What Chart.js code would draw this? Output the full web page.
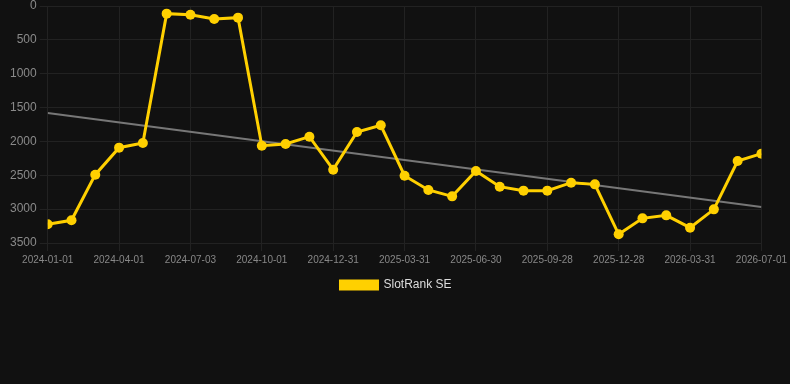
<!DOCTYPE html>
<html>
<head>
<meta charset="utf-8">
<script src="https://cdn.jsdelivr.net/npm/chart.js@4"></script>
<style>
  html, body { margin: 0; padding: 0; background: #111111; }
  #wrap { width: 790px; height: 384px; }
</style>
</head>
<body>
<div id="wrap"><canvas id="rankChart"></canvas></div>
<script>
// monthly rank, 2024-01 .. 2026-07 (index 0..30)
const rankValues = [3224, 3165, 2491, 2092, 2023, 113, 128, 192, 172, 2063,
    2038, 1930, 2417, 1861, 1762, 2506, 2717, 2811, 2437, 2668,
    2727, 2727, 2609, 2634, 3372, 3136, 3092, 3274, 3003, 2289, 2181];
const trendValues = [1580, 2968];
const tickLabels = ['2024-01-01', '2024-04-01', '2024-07-03', '2024-10-01', '2024-12-31',
    '2025-03-31', '2025-06-30', '2025-09-28', '2025-12-28', '2026-03-31', '2026-07-01'];

const rankPoints = rankValues.map((v, i) => ({ x: i, y: v }));
const trendPoints = [{ x: 0, y: trendValues[0] }, { x: 30, y: trendValues[1] }];
const fontFamily = 'Arial, "Liberation Sans", sans-serif';

new Chart(document.getElementById('rankChart'), {
    type: 'line',
    data: {
        datasets: [{
            label: 'SlotRank SE',
            data: rankPoints,
            borderColor: '#ffd000',
            backgroundColor: '#ffd000',
            borderWidth: 3,
            pointRadius: 5,
            pointBackgroundColor: '#ffd000',
            pointBorderWidth: 0,
            tension: 0
        }, {
            label: 'trend',
            data: trendPoints,
            borderColor: '#777777',
            borderWidth: 2,
            pointRadius: 0,
            fill: false
        }]
    },
    options: {
        responsive: true,
        maintainAspectRatio: false,
        animation: false,
        layout: { padding: { top: 0, right: 5, bottom: 83, left: 7 } },
        plugins: {
            legend: {
                position: 'bottom',
                labels: {
                    color: '#dddddd',
                    font: { family: fontFamily, size: 12 },
                    boxWidth: 37,
                    boxHeight: 8,
                    filter: item => item.text !== 'trend'
                }
            },
            tooltip: { enabled: false }
        },
        scales: {
            x: {
                type: 'linear',
                min: 0,
                max: 30,
                afterBuildTicks: axis => {
                    axis.ticks = tickLabels.map((_, i) => ({ value: i * 3 }));
                },
                ticks: {
                    color: '#888888',
                    font: { family: fontFamily, size: 10 },
                    maxRotation: 0,
                    callback: function (v) { return tickLabels[Math.round(v / 3)]; }
                },
                grid: { color: '#222222' },
                border: { display: false }
            },
            y: {
                reverse: true,
                min: 0,
                max: 3500,
                afterFit: axis => { axis.paddingTop = 6; },
                ticks: {
                    stepSize: 500,
                    color: '#8a8a8a',
                    font: { family: fontFamily, size: 12 },
                    callback: function (v) { return String(v); }
                },
                grid: { color: '#222222' },
                border: { display: false }
            }
        }
    }
});
</script>
</body>
</html>
